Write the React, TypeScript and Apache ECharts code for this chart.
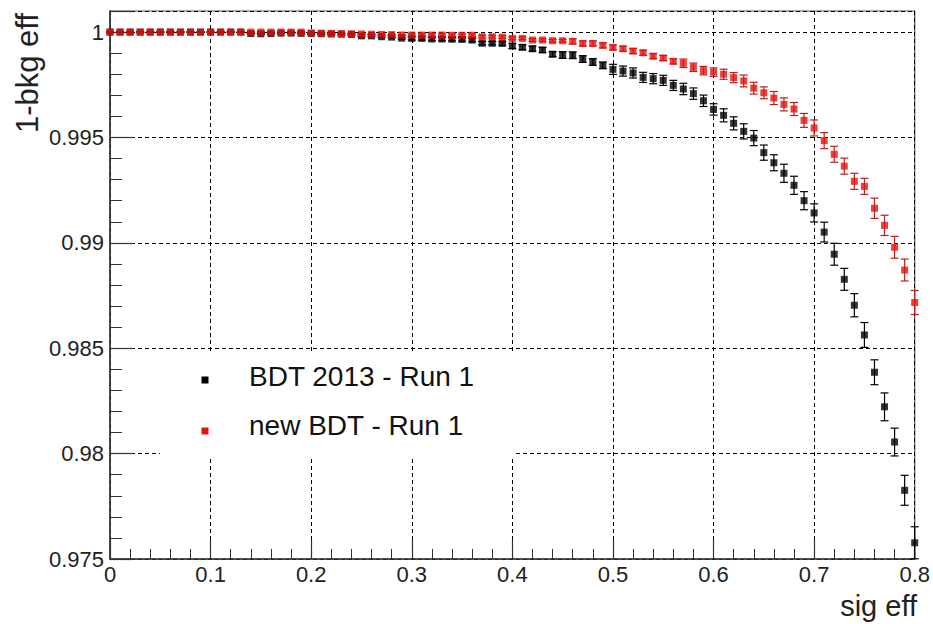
import React, { useEffect, useRef } from "react";
import * as echarts from "echarts";

const sigEff = [
  0.0, 0.01, 0.02, 0.03, 0.04, 0.05, 0.06, 0.07, 0.08, 0.09,
  0.1, 0.11, 0.12, 0.13, 0.14, 0.15, 0.16, 0.17, 0.18, 0.19,
  0.2, 0.21, 0.22, 0.23, 0.24, 0.25, 0.26, 0.27, 0.28, 0.29,
  0.3, 0.31, 0.32, 0.33, 0.34, 0.35, 0.36, 0.37, 0.38, 0.39,
  0.4, 0.41, 0.42, 0.43, 0.44, 0.45, 0.46, 0.47, 0.48, 0.49,
  0.5, 0.51, 0.52, 0.53, 0.54, 0.55, 0.56, 0.57, 0.58, 0.59,
  0.6, 0.61, 0.62, 0.63, 0.64, 0.65, 0.66, 0.67, 0.68, 0.69,
  0.7, 0.71, 0.72, 0.73, 0.74, 0.75, 0.76, 0.77, 0.78, 0.79,
  0.8,
];

const bdt2013 = [
  1.0, 1.0, 1.0, 1.0, 1.0, 1.0, 1.0, 1.0, 1.0, 1.0,
  1.0, 1.0, 1.0, 1.0, 0.99993, 0.99992, 0.99993, 0.99995, 0.99995, 0.99994,
  0.99993, 0.99992, 0.99991, 0.9999, 0.99989, 0.99982, 0.99982, 0.99978, 0.99976, 0.99971,
  0.9997, 0.9997, 0.99967, 0.99967, 0.99966, 0.99965, 0.99962, 0.99947, 0.99947, 0.99946,
  0.99934, 0.99928, 0.99921, 0.99915, 0.99895, 0.99891, 0.9989, 0.99872, 0.99858, 0.99842,
  0.99823, 0.99815, 0.99806, 0.99785, 0.99779, 0.99771, 0.99747, 0.9973, 0.99708, 0.99674,
  0.99633, 0.99605, 0.99567, 0.99529, 0.99497, 0.99428, 0.9938, 0.9933, 0.99273, 0.992,
  0.99142, 0.99051, 0.98946, 0.98827, 0.98704, 0.98563, 0.98386, 0.98222, 0.98055, 0.97826,
  0.97577,
];

const bdt2013Err = [
  0.00002, 0.00002, 0.00002, 0.00002, 0.00002, 0.00002, 0.00002, 0.00002, 0.00002, 0.00002,
  0.00002, 0.00002, 0.00002, 0.00002, 0.00002, 0.00002, 0.00002, 0.00002, 0.00002, 0.00002,
  0.00004, 0.00004, 0.00004, 0.00004, 0.00004, 0.00004, 0.00004, 0.00004, 0.00004, 0.00004,
  0.00008, 0.00008, 0.00008, 0.00008, 0.00008, 0.00008, 0.00008, 0.00008, 0.00008, 0.00008,
  0.00012, 0.00012, 0.00012, 0.00012, 0.00012, 0.00016, 0.00016, 0.00016, 0.00016, 0.00016,
  0.00024, 0.00024, 0.00024, 0.00024, 0.00024, 0.00024, 0.00024, 0.00027, 0.00027, 0.00027,
  0.00027, 0.00031, 0.00031, 0.00036, 0.00036, 0.00036, 0.00038, 0.00043, 0.00043, 0.00043,
  0.00043, 0.00047, 0.00052, 0.00052, 0.00055, 0.00059, 0.00059, 0.00066, 0.00066, 0.00071,
  0.00076,
];

const newBdt = [
  1.0, 1.0, 1.0, 1.0, 1.0, 1.0, 1.0, 1.0, 1.0, 1.0,
  1.0, 1.0, 1.0, 1.0, 1.0, 1.0, 1.0, 1.0, 1.0, 1.0,
  0.99996, 0.99995, 0.99994, 0.99993, 0.99992, 0.99991, 0.9999, 0.99989, 0.99988, 0.99986,
  0.99986, 0.99986, 0.99986, 0.99986, 0.99985, 0.99985, 0.99985, 0.99978, 0.99978, 0.99976,
  0.9997, 0.9997, 0.99962, 0.99962, 0.99959, 0.99959, 0.99956, 0.99946, 0.99946, 0.99937,
  0.99927, 0.99921, 0.9991, 0.99902, 0.99886, 0.99877, 0.99861, 0.99852, 0.99833, 0.99817,
  0.9981, 0.998, 0.99784, 0.99768, 0.99734, 0.99712, 0.99687, 0.99657, 0.99635, 0.99581,
  0.99545, 0.99485, 0.9942, 0.99364, 0.99292, 0.99268, 0.99164, 0.99083, 0.98979, 0.98871,
  0.98717,
];

const newBdtErr = [
  0.00002, 0.00002, 0.00002, 0.00002, 0.00002, 0.00002, 0.00002, 0.00002, 0.00002, 0.00002,
  0.00002, 0.00002, 0.00002, 0.00002, 0.00002, 0.00002, 0.00002, 0.00002, 0.00002, 0.00002,
  0.00002, 0.00002, 0.00002, 0.00002, 0.00002, 0.00002, 0.00002, 0.00002, 0.00002, 0.00002,
  0.00006, 0.00006, 0.00006, 0.00006, 0.00006, 0.00006, 0.00006, 0.00006, 0.00006, 0.00006,
  0.00006, 0.00006, 0.00006, 0.00006, 0.00006, 0.00006, 0.00012, 0.00012, 0.00012, 0.00012,
  0.00012, 0.00012, 0.00012, 0.00012, 0.00012, 0.00012, 0.00012, 0.0002, 0.0002, 0.0002,
  0.0002, 0.00024, 0.00024, 0.00028, 0.00028, 0.00028, 0.00031, 0.00031, 0.00031, 0.00033,
  0.00038, 0.00038, 0.00038, 0.00038, 0.00038, 0.00038, 0.00048, 0.00048, 0.00052, 0.00052,
  0.00057,
];

const seriesNames = ["BDT 2013 - Run 1", "new BDT - Run 1"];
const xTitle = "sig eff";
const yTitle = "1-bkg eff";

const FONT = "'Liberation Sans', Arial, Helvetica, sans-serif";
const BLACK = "#000000";
const RED = "#e8120e";
const RED_ERR = "#b82020";

function errorSeries(xs: number[], ys: number[], es: number[], color: string) {
  return {
    type: "custom",
    clip: false,
    z: 3,
    data: xs.map((x, i) => [x, ys[i], es[i]]),
    renderItem: (params: any, api: any) => {
      const x = api.value(0);
      const y = api.value(1);
      const e = api.value(2);
      const top = api.coord([x, y + e]);
      const bot = api.coord([x, y - e]);
      const hw = 4;
      const style = { stroke: color, lineWidth: 1.2 };
      return {
        type: "group",
        children: [
          { type: "line", shape: { x1: top[0], y1: top[1], x2: bot[0], y2: bot[1] }, style },
          { type: "line", shape: { x1: top[0] - hw, y1: top[1], x2: top[0] + hw, y2: top[1] }, style },
          { type: "line", shape: { x1: bot[0] - hw, y1: bot[1], x2: bot[0] + hw, y2: bot[1] }, style },
        ],
      };
    },
  };
}

export default function App() {
  const ref = useRef<HTMLDivElement>(null);
  useEffect(() => {
    if (!ref.current) return;
    const chart = echarts.init(ref.current, undefined, { renderer: "svg" });
    const option: any = {
      animation: false,
      backgroundColor: "#ffffff",
      grid: {
        left: 110,
        right: 15,
        top: 11,
        bottom: 65,
        show: true,
        borderColor: "#555555",
        borderWidth: 1.2,
        backgroundColor: "transparent",
      },
      xAxis: {
        type: "value",
        min: 0,
        max: 0.8,
        interval: 0.1,
        axisLine: { show: true, lineStyle: { color: "#333333", width: 1.5 } },
        axisTick: { show: true, inside: true, length: 19, lineStyle: { color: "#333333", width: 1.2 } },
        minorTick: { show: true, splitNumber: 5, length: 10, lineStyle: { color: "#333333", width: 1 } },
        splitLine: { show: true, lineStyle: { color: "#000000", type: [4, 3], width: 1 } },
        axisLabel: {
          show: true,
          margin: 4,
          fontSize: 22,
          color: "#222222",
          fontFamily: FONT,
          formatter: (v: number) => String(parseFloat(v.toFixed(2))),
        },
      },
      yAxis: {
        type: "value",
        min: 0.975,
        max: 1.001,
        interval: 0.005,
        axisLine: { show: true, lineStyle: { color: "#333333", width: 1.5 } },
        axisTick: { show: true, inside: true, length: 23, lineStyle: { color: "#333333", width: 1.2 } },
        minorTick: { show: true, splitNumber: 5, length: 12, lineStyle: { color: "#333333", width: 1 } },
        splitLine: { show: true, lineStyle: { color: "#000000", type: [4, 3], width: 1 } },
        axisLabel: {
          show: true,
          margin: 6,
          fontSize: 22,
          color: "#222222",
          fontFamily: FONT,
          showMaxLabel: false,
          formatter: (v: number) => String(parseFloat(v.toFixed(3))),
        },
      },
      series: [
        errorSeries(sigEff, bdt2013, bdt2013Err, BLACK),
        errorSeries(sigEff, newBdt, newBdtErr, RED_ERR),
        {
          name: seriesNames[0],
          type: "scatter",
          symbol: "rect",
          symbolSize: 7,
          clip: false,
          z: 4,
          itemStyle: { color: BLACK },
          data: sigEff.map((x, i) => [x, bdt2013[i]]),
        },
        {
          name: seriesNames[1],
          type: "scatter",
          symbol: "rect",
          symbolSize: 7,
          clip: false,
          z: 5,
          itemStyle: { color: RED },
          data: sigEff.map((x, i) => [x, newBdt[i]]),
        },
      ],
      graphic: [
        { type: "rect", z: 10, shape: { x: 160, y: 351, width: 355, height: 108 }, style: { fill: "#ffffff" } },
        { type: "rect", z: 11, shape: { x: 201.5, y: 376.5, width: 7, height: 7 }, style: { fill: BLACK } },
        { type: "rect", z: 11, shape: { x: 201.5, y: 427.5, width: 7, height: 7 }, style: { fill: RED } },
        {
          type: "text", z: 11, x: 249, y: 376,
          style: { text: seriesNames[0], fontSize: 28, fontFamily: FONT, fill: "#111111", textAlign: "left", textVerticalAlign: "middle" },
        },
        {
          type: "text", z: 11, x: 249, y: 425,
          style: { text: seriesNames[1], fontSize: 28, fontFamily: FONT, fill: "#111111", textAlign: "left", textVerticalAlign: "middle" },
        },
        {
          type: "text", z: 11, x: 917, y: 606,
          style: { text: xTitle, fontSize: 29, fontFamily: FONT, fill: "#222222", textAlign: "right", textVerticalAlign: "middle" },
        },
        {
          type: "text", z: 11, x: 27, y: 13, rotation: Math.PI / 2,
          style: { text: yTitle, fontSize: 31, fontFamily: FONT, fill: "#222222", textAlign: "right", textVerticalAlign: "middle" },
        },
      ],
    };
    chart.setOption(option);
    return () => chart.dispose();
  }, []);
  return (
    <div
      ref={ref}
      style={{ position: "fixed", left: 0, top: 0, width: 933, height: 624, background: "#ffffff" }}
    />
  );
}
